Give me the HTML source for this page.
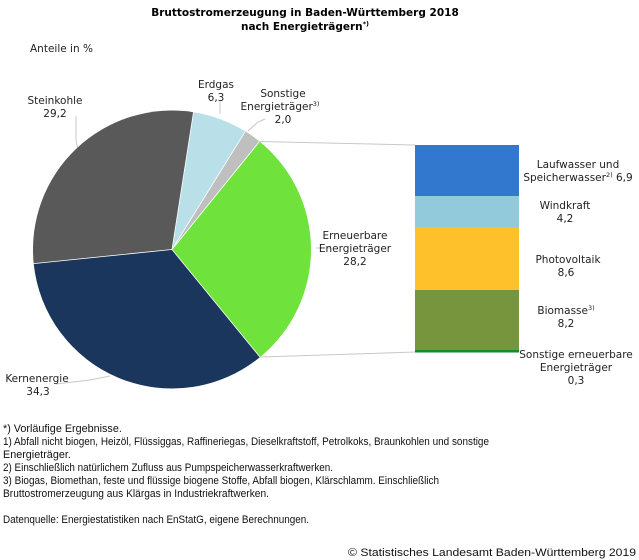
<!DOCTYPE html>
<html><head><meta charset="utf-8"><style>
html,body{margin:0;padding:0;background:#fff;}
svg{display:block;font-family:"Liberation Sans",sans-serif;}
</style></head><body>
<svg width="639" height="560" viewBox="0 0 639 560" xmlns="http://www.w3.org/2000/svg">
<g font-family="DejaVu Sans, sans-serif" font-weight="bold" font-size="10.5" text-anchor="middle" fill="#000">
<text x="305" y="16">Bruttostromerzeugung in Baden-Württemberg 2018</text>
<text x="305" y="30">nach Energieträgern<tspan font-size="6.5" dy="-4">*)</tspan></text>
</g>
<g font-family="DejaVu Sans, sans-serif" font-size="10.5" fill="#222">
<text x="30" y="52">Anteile in %</text>
</g>
<g stroke="#c8c8c8" stroke-width="1" fill="none">
<line x1="259.5" y1="141.5" x2="415" y2="145"/>
<line x1="260" y1="357" x2="415" y2="352"/>
<polyline points="76,116 76,140 78,150"/>
<line x1="220" y1="101" x2="220" y2="114"/>
<polyline points="265,119 258,122 248,131"/>
<line x1="316" y1="248" x2="331" y2="248"/>
<polyline points="56,384 90,380 110,376"/>
</g>
<path d="M172,249.5 L193.5,112.2 A139,139 0 0 1 245.3,131.4 Z" fill="#b9dfe8"/>
<path d="M172,249.5 L245.3,131.4 A139,139 0 0 1 259.5,141.5 Z" fill="#bfbfbf"/>
<path d="M172,249.5 L259.5,141.5 A139,139 0 0 1 260,357.1 Z" fill="#6fe33c"/>
<path d="M172,249.5 L260,357.1 A139,139 0 0 1 33.7,263.6 Z" fill="#1a365c"/>
<path d="M172,249.5 L33.7,263.6 A139,139 0 0 1 193.5,112.2 Z" fill="#595959"/>
<g stroke="#fff" stroke-width="0.8" fill="none">
<line x1="172" y1="249.5" x2="193.5" y2="112.2"/>
<line x1="172" y1="249.5" x2="245.3" y2="131.4"/>
<line x1="172" y1="249.5" x2="259.5" y2="141.5"/>
<line x1="172" y1="249.5" x2="260" y2="357.1"/>
<line x1="172" y1="249.5" x2="33.7" y2="263.6"/>
</g>
<rect x="415" y="145" width="104" height="51" fill="#3278cf"/>
<rect x="415" y="196" width="104" height="31" fill="#93cadb"/>
<rect x="415" y="227" width="104" height="63" fill="#fec12c"/>
<rect x="415" y="290" width="104" height="60" fill="#77953c"/>
<rect x="415" y="350" width="104" height="2.5" fill="#138a2f"/>
<g font-family="DejaVu Sans, sans-serif" font-size="10.5" fill="#222" text-anchor="middle">
<text x="55" y="104">Steinkohle</text>
<text x="55" y="117">29,2</text>
<text x="216" y="88">Erdgas</text>
<text x="216" y="101">6,3</text>
<text x="283" y="97">Sonstige</text>
<text x="280" y="110">Energieträger<tspan font-size="6.5" dy="-4">3)</tspan></text>
<text x="283" y="123">2,0</text>
<text x="355" y="239">Erneuerbare</text>
<text x="355" y="252">Energieträger</text>
<text x="355" y="265">28,2</text>
<text x="37" y="382">Kernenergie</text>
<text x="38" y="395">34,3</text>
<text x="578" y="168">Laufwasser und</text>
<text x="578" y="181">Speicherwasser<tspan font-size="6.5" dy="-4">2)</tspan><tspan dy="4"> 6,9</tspan></text>
<text x="565" y="209">Windkraft</text>
<text x="565" y="222">4,2</text>
<text x="568" y="263">Photovoltaik</text>
<text x="566" y="276">8,6</text>
<text x="566" y="314">Biomasse<tspan font-size="6.5" dy="-4">3)</tspan></text>
<text x="566" y="327">8,2</text>
<text x="576" y="358">Sonstige erneuerbare</text>
<text x="576" y="371">Energieträger</text>
<text x="576" y="384">0,3</text>
</g>
<g font-size="10.8" fill="#111">
<text x="3" y="432">*) Vorläufige Ergebnisse.</text>
<text x="3" y="445" textLength="486" lengthAdjust="spacingAndGlyphs">1) Abfall nicht biogen, Heizöl, Flüssiggas, Raffineriegas, Dieselkraftstoff, Petrolkoks, Braunkohlen und sonstige</text>
<text x="3" y="458">Energieträger.</text>
<text x="3" y="471" textLength="330" lengthAdjust="spacingAndGlyphs">2) Einschließlich natürlichem Zufluss aus Pumpspeicherwasserkraftwerken.</text>
<text x="3" y="484" textLength="436" lengthAdjust="spacingAndGlyphs">3) Biogas, Biomethan, feste und flüssige biogene Stoffe, Abfall biogen, Klärschlamm. Einschließlich</text>
<text x="3" y="497" textLength="266" lengthAdjust="spacingAndGlyphs">Bruttostromerzeugung aus Klärgas in Industriekraftwerken.</text>
<text x="3" y="523" textLength="306" lengthAdjust="spacingAndGlyphs">Datenquelle: Energiestatistiken nach EnStatG, eigene Berechnungen.</text>
<text x="636" y="556" text-anchor="end" textLength="288" lengthAdjust="spacingAndGlyphs">© Statistisches Landesamt Baden-Württemberg 2019</text>
</g>
</svg>
</body></html>
